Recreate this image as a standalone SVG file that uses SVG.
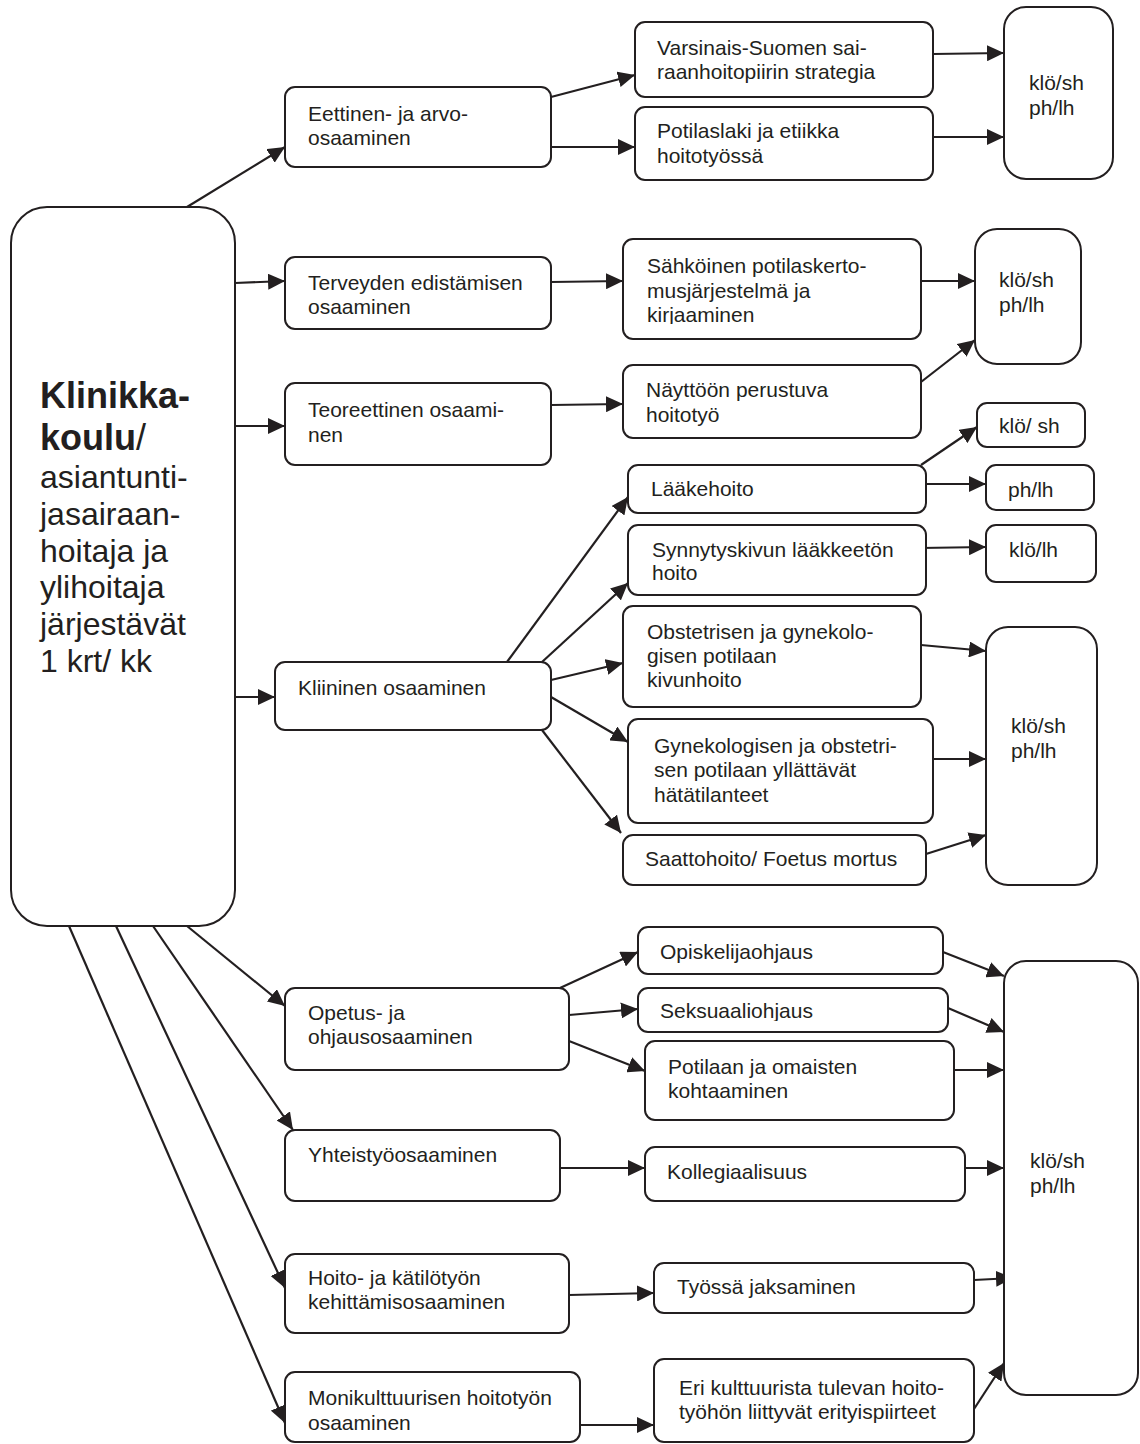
<svg xmlns="http://www.w3.org/2000/svg" width="1140" height="1444" viewBox="0 0 1140 1444">
<defs>
<style>
.box{fill:#fff;stroke:#231f20;stroke-width:2}
.t{font-family:"Liberation Sans",Arial,sans-serif;font-size:21px;fill:#231f20}
.m{font-family:"Liberation Sans",Arial,sans-serif;font-size:32px;fill:#231f20}
.c{stroke:#231f20;stroke-width:2.2;fill:none;marker-end:url(#ah)}
</style>
<marker id="ah" markerUnits="userSpaceOnUse" markerWidth="18" markerHeight="16" refX="17" refY="8" orient="auto">
<path d="M0,0 L17,8 L0,16 z" fill="#231f20"/>
</marker>
<clipPath id="clipPot"><rect x="630" y="100" width="310" height="67"/></clipPath>
<clipPath id="clipSah"><rect x="620" y="235" width="310" height="89"/></clipPath>
<clipPath id="clipSek"><rect x="630" y="985" width="320" height="36"/></clipPath>
</defs>
<rect width="1140" height="1444" fill="#fff"/>

<g id="connectors">
<path class="c" d="M187,207 L285,147"/>
<path class="c" d="M235,283 L285,281"/>
<path class="c" d="M235,426 L285,426"/>
<path class="c" d="M235,697 L275,697"/>
<path class="c" d="M187,926 L285,1006"/>
<path class="c" d="M153,926 L293,1130"/>
<path class="c" d="M116,926 L285,1288"/>
<path class="c" d="M69,926 L285,1423"/>
<path class="c" d="M551,97 L635,75"/>
<path class="c" d="M551,147 L635,147"/>
<path class="c" d="M933,54 L1004,53"/>
<path class="c" d="M933,137 L1004,137"/>
<path class="c" d="M551,282 L623,281"/>
<path class="c" d="M921,281 L975,281"/>
<path class="c" d="M551,405 L623,404"/>
<path class="c" d="M921,382 L975,340"/>
<path class="c" d="M507,662 L628,497"/>
<path class="c" d="M542,662 L628,583"/>
<path class="c" d="M551,680 L623,663"/>
<path class="c" d="M551,697 L628,742"/>
<path class="c" d="M542,730 L621,833"/>
<path class="c" d="M921,465 L977,427"/>
<path class="c" d="M919,484 L986,484"/>
<path class="c" d="M920,548 L986,547"/>
<path class="c" d="M921,645 L986,651"/>
<path class="c" d="M933,759 L986,759"/>
<path class="c" d="M926,854 L986,835"/>
<path class="c" d="M560,988 L638,952"/>
<path class="c" d="M569,1015 L638,1009"/>
<path class="c" d="M569,1041 L645,1071"/>
<path class="c" d="M943,952 L1004,976"/>
<path class="c" d="M948,1008 L1004,1032"/>
<path class="c" d="M954,1070 L1004,1070"/>
<path class="c" d="M560,1168 L645,1168"/>
<path class="c" d="M965,1168 L1004,1168"/>
<path class="c" d="M569,1295 L654,1293"/>
<path class="c" d="M974,1280 L1013,1278"/>
<path class="c" d="M580,1425 L654,1425"/>
<path class="c" d="M974,1409 L1004,1363"/>
</g>

<g id="main">
<rect class="box" x="11" y="207" width="224" height="719" rx="36"/>
<text class="m">
<tspan x="40" y="408" font-weight="bold" font-size="36">Klinikka-</tspan>
<tspan x="40" y="450" font-weight="bold" font-size="36">koulu</tspan><tspan font-size="36">/</tspan>
<tspan x="40" y="488">asiantunti-</tspan>
<tspan x="40" y="525">jasairaan-</tspan>
<tspan x="40" y="562">hoitaja ja</tspan>
<tspan x="40" y="598">ylihoitaja</tspan>
<tspan x="40" y="635">järjestävät</tspan>
<tspan x="40" y="672">1 krt/ kk</tspan>
</text>
</g>

<g id="eettinen"><rect class="box" x="285" y="87" width="266" height="80" rx="10"/>
<text class="t"><tspan x="308" y="121">Eettinen- ja arvo-</tspan><tspan x="308" y="145">osaaminen</tspan></text></g>
<g id="terveyden"><rect class="box" x="285" y="257" width="266" height="72" rx="10"/>
<text class="t"><tspan x="308" y="290">Terveyden edistämisen</tspan><tspan x="308" y="314">osaaminen</tspan></text></g>
<g id="teoreettinen"><rect class="box" x="285" y="383" width="266" height="82" rx="10"/>
<text class="t"><tspan x="308" y="417">Teoreettinen osaami-</tspan><tspan x="308" y="442">nen</tspan></text></g>
<g id="kliininen"><rect class="box" x="275" y="662" width="276" height="68" rx="10"/>
<text class="t" x="298" y="695">Kliininen osaaminen</text></g>
<g id="opetus"><rect class="box" x="285" y="988" width="284" height="82" rx="10"/>
<text class="t"><tspan x="308" y="1020">Opetus- ja</tspan><tspan x="308" y="1044">ohjausosaaminen</tspan></text></g>
<g id="yhteistyo"><rect class="box" x="285" y="1130" width="275" height="71" rx="10"/>
<text class="t" x="308" y="1162">Yhteistyöosaaminen</text></g>
<g id="hoito"><rect class="box" x="285" y="1254" width="284" height="79" rx="10"/>
<text class="t"><tspan x="308" y="1285">Hoito- ja kätilötyön</tspan><tspan x="308" y="1309">kehittämisosaaminen</tspan></text></g>
<g id="monikulttuurisen"><rect class="box" x="285" y="1372" width="295" height="70" rx="10"/>
<text class="t"><tspan x="308" y="1405">Monikulttuurisen hoitotyön</tspan><tspan x="308" y="1430">osaaminen</tspan></text></g>

<g id="varsinais"><rect class="box" x="635" y="22" width="298" height="75" rx="10"/>
<text class="t"><tspan x="657" y="55">Varsinais-Suomen sai-</tspan><tspan x="657" y="79">raanhoitopiirin strategia</tspan></text></g>
<g id="potilaslaki"><rect class="box" x="635" y="107" width="298" height="73" rx="10"/>
<text class="t" clip-path="url(#clipPot)"><tspan x="657" y="138">Potilaslaki ja etiikka</tspan><tspan x="657" y="163">hoitotyössä</tspan></text></g>
<g id="sahkoinen"><rect class="box" x="623" y="239" width="298" height="100" rx="10"/>
<text class="t" clip-path="url(#clipSah)"><tspan x="647" y="273">Sähköinen potilaskerto-</tspan><tspan x="647" y="298">musjärjestelmä ja</tspan><tspan x="647" y="322">kirjaaminen</tspan></text></g>
<g id="nayttoon"><rect class="box" x="623" y="365" width="298" height="73" rx="10"/>
<text class="t"><tspan x="646" y="397">Näyttöön perustuva</tspan><tspan x="646" y="422">hoitotyö</tspan></text></g>
<g id="laakehoito"><rect class="box" x="628" y="465" width="298" height="48" rx="10"/>
<text class="t" x="651" y="496">Lääkehoito</text></g>
<g id="synnytyskivun"><rect class="box" x="628" y="525" width="298" height="70" rx="10"/>
<text class="t"><tspan x="652" y="557">Synnytyskivun lääkkeetön</tspan><tspan x="652" y="580">hoito</tspan></text></g>
<g id="obstetrisen"><rect class="box" x="623" y="606" width="298" height="101" rx="10"/>
<text class="t"><tspan x="647" y="639">Obstetrisen ja gynekolo-</tspan><tspan x="647" y="663">gisen potilaan</tspan><tspan x="647" y="687">kivunhoito</tspan></text></g>
<g id="gynekologisen"><rect class="box" x="628" y="719" width="305" height="104" rx="10"/>
<text class="t"><tspan x="654" y="753">Gynekologisen ja obstetri-</tspan><tspan x="654" y="777">sen potilaan yllättävät</tspan><tspan x="654" y="802">hätätilanteet</tspan></text></g>
<g id="saattohoito"><rect class="box" x="623" y="835" width="303" height="50" rx="10"/>
<text class="t" x="645" y="866">Saattohoito/ Foetus mortus</text></g>
<g id="opiskelijaohjaus"><rect class="box" x="638" y="927" width="305" height="47" rx="10"/>
<text class="t" x="660" y="959">Opiskelijaohjaus</text></g>
<g id="seksuaaliohjaus"><rect class="box" x="638" y="988" width="310" height="44" rx="10"/>
<text class="t" x="660" y="1018" clip-path="url(#clipSek)">Seksuaaliohjaus</text></g>
<g id="potilaan"><rect class="box" x="645" y="1041" width="309" height="79" rx="10"/>
<text class="t"><tspan x="668" y="1074">Potilaan ja omaisten</tspan><tspan x="668" y="1098">kohtaaminen</tspan></text></g>
<g id="kollegiaalisuus"><rect class="box" x="645" y="1147" width="320" height="54" rx="10"/>
<text class="t" x="667" y="1179">Kollegiaalisuus</text></g>
<g id="tyossa"><rect class="box" x="654" y="1263" width="320" height="50" rx="10"/>
<text class="t" x="677" y="1294">Työssä jaksaminen</text></g>
<g id="eri"><rect class="box" x="654" y="1359" width="320" height="83" rx="10"/>
<text class="t"><tspan x="679" y="1395">Eri kulttuurista tulevan hoito-</tspan><tspan x="679" y="1419">työhön liittyvät erityispiirteet</tspan></text></g>

<g id="k1"><rect class="box" x="1004" y="7" width="109" height="172" rx="22"/>
<text class="t"><tspan x="1029" y="90">klö/sh</tspan><tspan x="1029" y="115">ph/lh</tspan></text></g>
<g id="k2"><rect class="box" x="975" y="229" width="106" height="135" rx="22"/>
<text class="t"><tspan x="999" y="287">klö/sh</tspan><tspan x="999" y="312">ph/lh</tspan></text></g>
<g id="k3"><rect class="box" x="977" y="403" width="108" height="44" rx="10"/>
<text class="t" x="999" y="433">klö/ sh</text></g>
<g id="k4"><rect class="box" x="986" y="465" width="108" height="45" rx="10"/>
<text class="t" x="1008" y="497">ph/lh</text></g>
<g id="k5"><rect class="box" x="986" y="525" width="110" height="57" rx="10"/>
<text class="t" x="1009" y="557">klö/lh</text></g>
<g id="k6"><rect class="box" x="986" y="627" width="111" height="258" rx="22"/>
<text class="t"><tspan x="1011" y="733">klö/sh</tspan><tspan x="1011" y="758">ph/lh</tspan></text></g>
<g id="k7"><rect class="box" x="1004" y="961" width="134" height="434" rx="22"/>
<text class="t"><tspan x="1030" y="1168">klö/sh</tspan><tspan x="1030" y="1193">ph/lh</tspan></text></g>
</svg>
